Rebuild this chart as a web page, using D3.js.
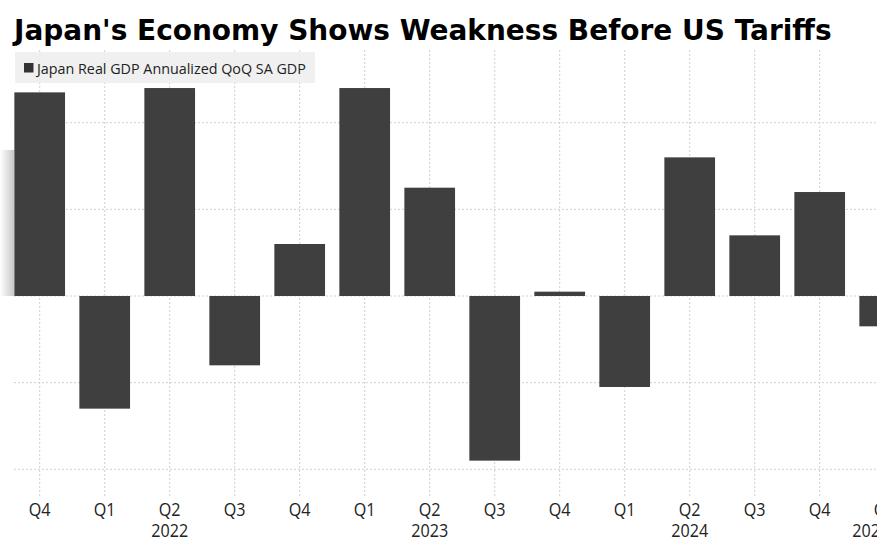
<!DOCTYPE html>
<html>
<head>
<meta charset="utf-8">
<script src="https://cdn.jsdelivr.net/npm/d3@7"></script>
<style>
  html, body { margin: 0; padding: 0; background: #fff; }
  svg { display: block; }
</style>
</head>
<body>
<svg id="chart" width="877" height="545"></svg>
<script>
// ---- data ----
const titleText = "Japan's Economy Shows Weakness Before US Tariffs";
const seriesName = "Japan Real GDP Annualized QoQ SA GDP";
const periods = ["2021Q4","2022Q1","2022Q2","2022Q3","2022Q4","2023Q1","2023Q2","2023Q3","2023Q4","2024Q1","2024Q2","2024Q3","2024Q4","2025Q1"];
const quarterLabels = ["Q4","Q1","Q2","Q3","Q4","Q1","Q2","Q3","Q4","Q1","Q2","Q3","Q4","Q1"];
const yearLabels = ["","","2022","","","","2023","","","","2024","","","2025"];
const gdpValues = [4.7, -2.6, 4.8, -1.6, 1.2, 4.8, 2.5, -3.8, 0.1, -2.1, 3.2, 1.4, 2.4, -0.7];
const yTicks = [-4, -2, 0, 2, 4];

// ---- layout ----
const W = 877, H = 545;
const svg = d3.select("#chart");
const barColor = "#3f3f3f";
const gridColor = "#cfcfcf";

const x = d3.scaleBand()
  .domain(periods)
  .range([7.2, 7.2 + 65 * periods.length])
  .paddingInner(0.22)
  .paddingOuter(0.11);

const y = d3.scaleLinear().domain([-4, 4]).range([469.3, 122.7]);

// faint shadow artifact at left edge
const defs = svg.append("defs");
const grad = defs.append("linearGradient").attr("id", "shadow").attr("x1", "0").attr("x2", "1");
grad.append("stop").attr("offset", "0").attr("stop-color", "#ffffff");
grad.append("stop").attr("offset", "1").attr("stop-color", "#c8c8c8");
svg.append("rect").attr("x", 0).attr("y", 150).attr("width", 14).attr("height", 146)
  .attr("fill", "url(#shadow)");

// vertical gridlines
svg.append("g").selectAll("line").data(periods).join("line")
  .attr("x1", d => x(d) + x.bandwidth() / 2)
  .attr("x2", d => x(d) + x.bandwidth() / 2)
  .attr("y1", 50).attr("y2", 497)
  .attr("stroke", gridColor).attr("stroke-width", 1)
  .attr("stroke-dasharray", "2,2");

// horizontal gridlines
svg.append("g").selectAll("line").data(yTicks).join("line")
  .attr("x1", 14).attr("x2", W)
  .attr("y1", d => y(d)).attr("y2", d => y(d))
  .attr("stroke", gridColor).attr("stroke-width", 1)
  .attr("stroke-dasharray", "2,2");

// bars
svg.append("g").selectAll("rect").data(periods).join("rect")
  .attr("x", d => x(d))
  .attr("width", x.bandwidth())
  .attr("y", (d, i) => y(Math.max(0, gdpValues[i])))
  .attr("height", (d, i) => Math.abs(y(gdpValues[i]) - y(0)))
  .attr("fill", barColor);

// helper to fit font size to a target width
function fit(textSel, targetW) {
  const node = textSel.node();
  const fs = parseFloat(textSel.attr("font-size"));
  const w = node.getComputedTextLength();
  if (w > 0) textSel.attr("font-size", (fs * targetW / w).toFixed(2));
}

// title
const title = svg.append("text")
  .attr("x", 14).attr("y", 40)
  .attr("font-family", "'DejaVu Sans', Verdana, sans-serif")
  .attr("font-weight", "bold")
  .attr("font-size", 27)
  .attr("fill", "#000")
  .text(titleText);
fit(title, 818);

// legend
svg.append("rect").attr("x", 15).attr("y", 52).attr("width", 300).attr("height", 31)
  .attr("fill", "#eeeeee").attr("fill-opacity", 0.9);
svg.append("rect").attr("x", 24).attr("y", 63).attr("width", 9.5).attr("height", 9.5)
  .attr("fill", "#333");
const legG = svg.append("g").attr("transform", "translate(37,73.5)");
const leg = legG.append("text")
  .attr("x", 0).attr("y", 0)
  .attr("font-family", "'Open Sans', 'Noto Sans', sans-serif")
  .attr("font-size", 14.5)
  .attr("fill", "#222")
  .text(seriesName);
{
  const w = leg.node().getComputedTextLength();
  legG.attr("transform", `translate(37,73.5) scale(${(269 / w).toFixed(4)},1)`);
}

// x axis labels (slightly condensed to mimic the narrow axis font)
const axisFont = "'Open Sans', 'Noto Sans', sans-serif";
const axisSize = 17.5;
const probe = svg.append("text").attr("font-family", axisFont).attr("font-size", axisSize).text("2022");
const sx = 37 / probe.node().getComputedTextLength();
probe.remove();

const lab = svg.append("g").selectAll("g").data(periods).join("g")
  .attr("transform", d => `translate(${x(d) + x.bandwidth() / 2},0) scale(${sx.toFixed(4)},1)`);

lab.append("text")
  .attr("y", 516)
  .attr("text-anchor", "middle")
  .attr("font-family", axisFont)
  .attr("font-size", axisSize)
  .attr("fill", "#222")
  .text((d, i) => quarterLabels[i]);

lab.append("text")
  .attr("x", (d, i) => (i === periods.length - 1 ? -14 / sx : 0))
  .attr("y", 537)
  .attr("text-anchor", "middle")
  .attr("font-family", axisFont)
  .attr("font-size", axisSize)
  .attr("fill", "#222")
  .text((d, i) => yearLabels[i]);
</script>
</body>
</html>
